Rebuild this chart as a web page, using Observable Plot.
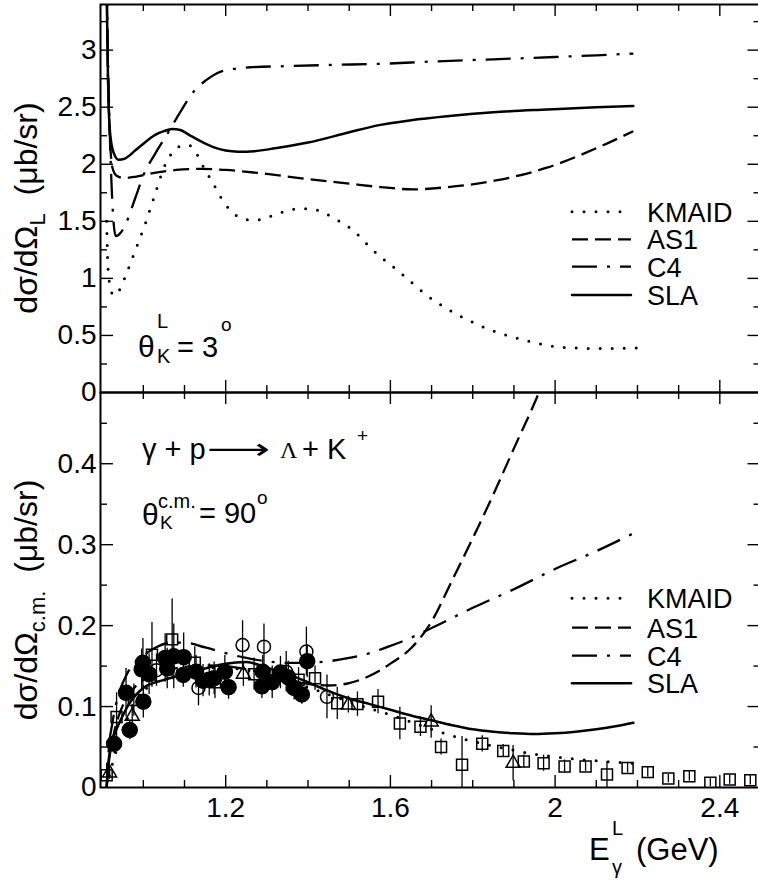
<!DOCTYPE html>
<html><head><meta charset="utf-8">
<script src="https://cdn.jsdelivr.net/npm/d3@7"></script>
<script src="https://cdn.jsdelivr.net/npm/@observablehq/plot@0.6"></script>
<style>
html,body{margin:0;padding:0;background:#fff;overflow:hidden}
#chart{position:relative;width:758px;height:881px}
#chart svg{position:absolute;left:0;top:0;overflow:visible;background:none}
</style></head><body><div id="chart"></div>
<script>
const FONT = "'Liberation Sans', Arial, Helvetica, sans-serif";

// ---------- axis ticks ----------
const xDomain = [0.896, 2.5];
const xMajor = [1.2, 1.6, 2.0, 2.4];
const xMinor = [1.0, 1.1, 1.3, 1.4, 1.5, 1.7, 1.8, 1.9, 2.1, 2.2, 2.3];
const xTickLabels = ["1.2", "1.6", "2", "2.4"];

const topYDomain = [0, 3.4];
const topYMajor = [0.5, 1, 1.5, 2, 2.5, 3];
const topYMinor = [0.25, 0.75, 1.25, 1.75, 2.25, 2.75, 3.25];
const topYTickVals = [0, 0.5, 1, 1.5, 2, 2.5, 3];
const topYTickLabels = ["0", "0.5", "1", "1.5", "2", "2.5", "3"];

const botYDomain = [0, 0.488];
const botYMajor = [0.1, 0.2, 0.3, 0.4];
const botYMinor = [0.05, 0.15, 0.25, 0.35, 0.45];
const botYTickVals = [0, 0.1, 0.2, 0.3, 0.4];
const botYTickLabels = ["0", "0.1", "0.2", "0.3", "0.4"];

// ---------- model names ----------
const modelNames = ["KMAID", "AS1", "C4", "SLA"];

// ---------- top panel curves (theta_K^L = 3 deg) [E, dsigma] ----------
const topKMAID = [[0.911,1.50],[0.913,1.20],[0.917,0.98],[0.922,0.88],[0.933,0.85],[0.945,0.92],[0.962,1.07],[0.982,1.26],[1.002,1.45],[1.026,1.71],[1.05,1.97],[1.07,2.10],[1.09,2.16],[1.108,2.17],[1.13,2.09],[1.147,1.97],[1.17,1.83],[1.188,1.71],[1.21,1.60],[1.236,1.53],[1.265,1.51],[1.292,1.52],[1.32,1.56],[1.349,1.59],[1.375,1.61],[1.405,1.61],[1.435,1.58],[1.462,1.53],[1.49,1.47],[1.51,1.42],[1.53,1.35],[1.551,1.27],[1.576,1.19],[1.624,1.05],[1.689,0.85],[1.769,0.67],[1.85,0.54],[1.93,0.455],[2.02,0.395],[2.11,0.385],[2.198,0.39]];
const topAS1 = [[0.911,3.6],[0.913,3.0],[0.916,2.5],[0.92,2.15],[0.925,1.97],[0.935,1.90],[0.953,1.88],[0.98,1.89],[1.02,1.92],[1.08,1.95],[1.14,1.96],[1.2,1.95],[1.3,1.915],[1.4,1.87],[1.5,1.83],[1.576,1.80],[1.655,1.78],[1.74,1.80],[1.86,1.86],[1.98,1.97],[2.1,2.14],[2.19,2.29]];
const topC4 = [[0.911,3.6],[0.915,2.8],[0.92,2.1],[0.925,1.65],[0.933,1.37],[0.945,1.40],[0.96,1.50],[0.98,1.70],[1.001,1.91],[1.03,2.10],[1.059,2.27],[1.09,2.46],[1.123,2.64],[1.15,2.73],[1.18,2.80],[1.22,2.835],[1.26,2.85],[1.35,2.86],[1.45,2.87],[1.576,2.88],[1.7,2.90],[1.85,2.92],[2.0,2.94],[2.1,2.955],[2.19,2.97]];
const topSLA = [[0.911,3.6],[0.913,3.0],[0.916,2.5],[0.92,2.25],[0.928,2.10],[0.94,2.04],[0.955,2.05],[0.98,2.12],[1.0,2.18],[1.03,2.26],[1.05,2.29],[1.07,2.31],[1.09,2.30],[1.11,2.26],[1.14,2.20],[1.17,2.15],[1.2,2.12],[1.23,2.11],[1.27,2.115],[1.32,2.14],[1.4,2.19],[1.5,2.28],[1.576,2.345],[1.65,2.385],[1.737,2.42],[1.85,2.455],[1.98,2.48],[2.1,2.50],[2.19,2.51]];

// ---------- bottom panel curves (theta_K^cm = 90 deg) ----------
const botKMAID = [[0.911,0],[0.92,0.02],[0.93,0.038],[0.95,0.07],[0.97,0.095],[1.0,0.118],[1.05,0.138],[1.1,0.146],[1.15,0.148],[1.2,0.148],[1.25,0.145],[1.3,0.14],[1.35,0.133],[1.4,0.124],[1.45,0.115],[1.5,0.106],[1.56,0.096],[1.6,0.09],[1.65,0.081],[1.7,0.072],[1.75,0.064],[1.8,0.057],[1.85,0.051],[1.9,0.046],[1.95,0.041],[2.0,0.038],[2.05,0.035],[2.1,0.033],[2.15,0.031],[2.2,0.0297]];
const botAS1 = [[0.911,0],[0.915,0.025],[0.92,0.045],[0.93,0.07],[0.94,0.088],[0.97,0.118],[1.0,0.133],[1.05,0.144],[1.1,0.149],[1.15,0.151],[1.2,0.15],[1.25,0.146],[1.3,0.14],[1.35,0.133],[1.4,0.128],[1.45,0.126],[1.5,0.129],[1.55,0.138],[1.6,0.153],[1.65,0.172],[1.7,0.205],[1.75,0.256],[1.8,0.308],[1.85,0.362],[1.9,0.419],[1.95,0.475],[1.975,0.505]];
const botC4 = [[0.911,0],[0.915,0.04],[0.925,0.08],[0.94,0.115],[0.96,0.14],[0.98,0.155],[1.0,0.163],[1.03,0.173],[1.07,0.179],[1.1,0.179],[1.15,0.173],[1.2,0.166],[1.25,0.16],[1.3,0.156],[1.35,0.154],[1.4,0.154],[1.45,0.156],[1.5,0.16],[1.55,0.166],[1.6,0.175],[1.65,0.185],[1.7,0.197],[1.8,0.222],[1.9,0.245],[2.0,0.27],[2.1,0.292],[2.19,0.314]];
const botSLA = [[0.911,0],[0.915,0.03],[0.921,0.05],[0.93,0.066],[0.941,0.079],[0.965,0.103],[1.0,0.123],[1.05,0.133],[1.1,0.14],[1.15,0.147],[1.2,0.153],[1.25,0.155],[1.3,0.148],[1.35,0.14],[1.4,0.13],[1.45,0.119],[1.5,0.11],[1.55,0.103],[1.6,0.096],[1.65,0.089],[1.7,0.083],[1.75,0.077],[1.8,0.072],[1.85,0.069],[1.9,0.067],[1.95,0.066],[2.0,0.067],[2.05,0.069],[2.1,0.072],[2.15,0.076],[2.19,0.080]];

// ---------- experimental data: E (GeV), dsigma (ub/sr), error ----------
const fcE   = [0.929,0.958,0.967,0.996,0.999,1.000,1.014,1.053,1.058,1.074,1.097,1.098,1.128,1.145,1.160,1.172,1.198,1.207,1.288,1.290,1.313,1.333,1.352,1.366,1.385,1.398];
const fcS   = [0.054,0.117,0.071,0.146,0.154,0.106,0.140,0.160,0.147,0.162,0.139,0.161,0.143,0.132,0.133,0.135,0.143,0.124,0.125,0.143,0.130,0.142,0.136,0.123,0.115,0.156];
const fcErr = [0.012,0.030,0.012,0.025,0.030,0.020,0.025,0.030,0.025,0.040,0.015,0.030,0.020,0.020,0.020,0.020,0.020,0.015,0.015,0.020,0.020,0.020,0.020,0.015,0.012,0.020];

const ocE   = [1.032,1.134,1.241,1.293,1.347,1.396,1.446];
const ocS   = [0.145,0.123,0.176,0.174,0.143,0.168,0.112];
const ocErr = [0.020,0.022,0.030,0.028,0.025,0.030,0.027];

const sqE   = [0.911,0.935,0.977,1.021,1.070,1.125,1.174,1.269,1.377,1.417,1.471,1.520,1.570,1.623,1.673,1.723,1.774,1.823,1.874,1.924,1.972,2.023,2.074,2.126,2.176,2.225,2.275,2.326,2.377,2.424,2.474];
const sqS   = [0.015,0.087,0.108,0.164,0.183,0.154,0.130,0.140,0.133,0.135,0.104,0.103,0.106,0.079,0.075,0.050,0.028,0.054,0.045,0.032,0.030,0.026,0.026,0.016,0.024,0.019,0.011,0.014,0.006,0.010,0.009];
const sqErr = [0.015,0.030,0.020,0.040,0.050,0.020,0.020,0.020,0.015,0.015,0.020,0.015,0.015,0.020,0.012,0.010,0.035,0.010,0.008,0.008,0.010,0.008,0.006,0.016,0.006,0.006,0.005,0.006,0.005,0.006,0.006];

const trE   = [0.918,0.973,1.243,1.498,1.699,1.898];
const trS   = [0.018,0.088,0.140,0.102,0.081,0.030];
const trErr = [0.008,0.015,0.015,0.010,0.020,0.022];

// ---------- styles ----------
const lineStyles = {
  KMAID: {dash: "0 12", cap: "round", width: 3},
  AS1:   {dash: "16 7", cap: "butt", width: 2.3},
  C4:    {dash: "25 10 3 10", cap: "butt", width: 2.3},
  SLA:   {dash: null, cap: "round", width: 2.5}
};

const W = 758, H = 881, ML = 100, MR = -2.5;
const zip = (E, S, Er) => E.map((e, i) => ({E: e, S: S[i], err: Er ? Er[i] : 0}));

function makePanel(cfg) {
  const fh = H - cfg.mt - cfg.mb, fw = W - ML - MR;
  const labelMap = new Map(cfg.yTickVals.map((v, i) => [v, cfg.yTickLabels[i]]));
  const marks = [];
  marks.push(Plot.ruleX(xMajor, {x: d => d, insetTop: fh - 12, strokeWidth: 1.4}));
  marks.push(Plot.ruleX(xMajor, {x: d => d, insetBottom: fh - 12, strokeWidth: 1.4}));
  marks.push(Plot.ruleX(xMinor, {x: d => d, insetTop: fh - 7, strokeWidth: 1.4}));
  marks.push(Plot.ruleX(xMinor, {x: d => d, insetBottom: fh - 7, strokeWidth: 1.4}));
  marks.push(Plot.ruleY(cfg.yMajor, {y: d => d, insetRight: fw - 13, strokeWidth: 1.4}));
  marks.push(Plot.ruleY(cfg.yMajor, {y: d => d, insetLeft: fw - 13, strokeWidth: 1.4}));
  marks.push(Plot.ruleY(cfg.yMinor, {y: d => d, insetRight: fw - 7, strokeWidth: 1.4}));
  marks.push(Plot.ruleY(cfg.yMinor, {y: d => d, insetLeft: fw - 7, strokeWidth: 1.4}));
  marks.push(Plot.axisY({ticks: cfg.yTickVals, tickSize: 0, tickPadding: 4, fontSize: 28, tickFormat: d => labelMap.get(d), label: null}));
  if (cfg.xLabels) {
    const xl = new Map(xMajor.map((v, i) => [v, xTickLabels[i]]));
    marks.push(Plot.axisX({ticks: xMajor, tickSize: 0, tickPadding: 10, fontSize: 28, tickFormat: d => xl.get(d), label: null}));
  }
  if (cfg.data) {
    for (const s of cfg.data) {
      marks.push(Plot.ruleX(s.rows, {x: "E", y1: d => d.S - d.err, y2: d => d.S + d.err, strokeWidth: 1.3, clip: true}));
    }
    for (const s of cfg.data) {
      marks.push(Plot.dot(s.rows, {x: "E", y: "S", symbol: s.symbol, r: s.r, fill: s.fill, stroke: "black", strokeWidth: 1.5, clip: true}));
    }
  }
  cfg.curves.forEach((pts, i) => {
    const st = lineStyles[modelNames[i]];
    marks.push(Plot.line(pts, {x: d => d[0], y: d => d[1], stroke: "black", strokeWidth: st.width,
      strokeDasharray: st.dash, strokeLinecap: st.cap, curve: "monotone-x", clip: true}));
  });
  marks.push(Plot.frame({strokeWidth: 2}));
  return Plot.plot({
    width: W, height: H, marginTop: cfg.mt, marginBottom: cfg.mb, marginLeft: ML, marginRight: MR,
    x: {domain: xDomain, axis: cfg.xLabels ? undefined : null},
    y: {domain: cfg.yDomain},
    style: {fontFamily: FONT, fontSize: "28px", background: "none", color: "black", overflow: "visible"},
    marks
  });
}

const topPlot = makePanel({
  mt: 4, mb: H - 392, yDomain: topYDomain, yMajor: topYMajor, yMinor: topYMinor,
  yTickVals: topYTickVals, yTickLabels: topYTickLabels, xLabels: false,
  curves: [topKMAID, topAS1, topC4, topSLA]
});
const botPlot = makePanel({
  mt: 392, mb: H - 787, yDomain: botYDomain, yMajor: botYMajor, yMinor: botYMinor,
  yTickVals: botYTickVals, yTickLabels: botYTickLabels, xLabels: true,
  curves: [botKMAID, botAS1, botC4, botSLA],
  data: [
    {rows: zip(sqE, sqS, sqErr), symbol: "square", r: 6.2, fill: "none"},
    {rows: zip(trE, trS, trErr), symbol: "triangle", r: 5.2, fill: "none"},
    {rows: zip(ocE, ocS, ocErr), symbol: "circle", r: 6.5, fill: "none"},
    {rows: zip(fcE, fcS, fcErr), symbol: "circle", r: 7.5, fill: "black"}
  ]
});
const chart = document.getElementById("chart");
chart.appendChild(topPlot);
chart.appendChild(botPlot);

// ---------- text annotations ----------
const svg = d3.select(botPlot);
const ann = svg.append("g").attr("text-anchor", "start").attr("font-family", FONT).attr("fill", "black");
function t(x, y, s, size, extra = {}) {
  const el = ann.append("text").attr("x", x).attr("y", y).attr("font-size", size)
    .attr("text-anchor", "start").text(s);
  if (extra.family) el.attr("font-family", extra.family);
  if (extra.len) el.attr("textLength", extra.len).attr("lengthAdjust", "spacingAndGlyphs");
  return el;
}

// legends
function legend(ys) {
  modelNames.forEach((name, i) => {
    const st = lineStyles[name];
    ann.append("line").attr("x1", 572).attr("x2", 631).attr("y1", ys[i]).attr("y2", ys[i])
      .attr("stroke", "black").attr("stroke-width", st.width)
      .attr("stroke-dasharray", st.dash).attr("stroke-linecap", st.cap);
    t(647, ys[i] + 10, name, 27);
  });
}
legend([211.7, 239.3, 266.7, 295]);
legend([598.3, 627.7, 655.7, 683.3]);

// top: theta_K^L = 3 deg
t(138, 357, "θ", 30);
t(157, 328, "L", 20);
t(157, 363, "K", 20);
t(177, 357, "= 3", 29);
t(221, 331, "o", 19);

// bottom: reaction
t(142, 459, "γ + p", 29);
t(207, 459, "⟶", 29, {family: "'DejaVu Sans', sans-serif", len: 63});
t(280, 458, "Λ", 24, {family: "'Liberation Serif', 'DejaVu Serif', serif"});
t(302, 459, "+ K", 29);
t(357, 442, "+", 19);

// bottom: theta_K^cm = 90 deg
t(142, 525, "θ", 30);
t(158, 508, "c.m.", 20);
t(160, 529, "K", 19);
t(199, 523, "= 90", 29);
t(257, 504, "o", 19);

// x axis title
t(589, 860, "E", 31);
t(612, 835, "L", 20);
t(612, 874, "γ", 20);
t(636, 860, "(GeV)", 31);

// y axis titles
function yTitle(cy, sub) {
  const el = ann.append("text").attr("transform", `translate(37,${cy}) rotate(-90)`)
    .attr("text-anchor", "middle").attr("font-size", 32);
  el.append("tspan").text("dσ/dΩ");
  el.append("tspan").attr("dy", 8).attr("font-size", 22).text(sub);
  el.append("tspan").attr("dy", -8).text("\u00a0\u00a0(μb/sr)");
}
yTitle(208, "L");
yTitle(600, "c.m.");
</script>
</body></html>
